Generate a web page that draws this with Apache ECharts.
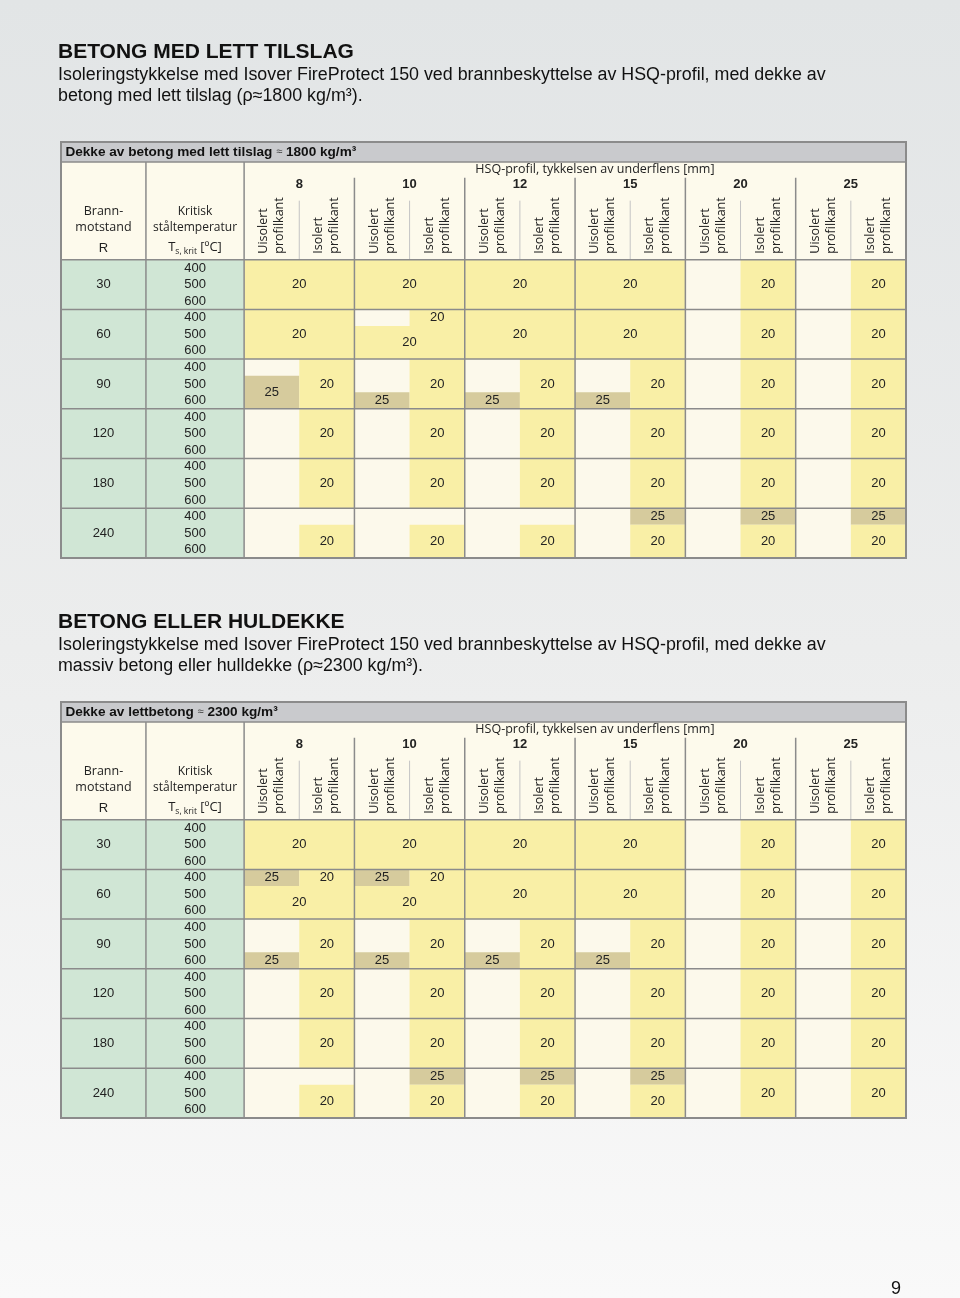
<!DOCTYPE html>
<html><head><meta charset="utf-8">
<script src="https://cdn.jsdelivr.net/npm/echarts@6/dist/echarts.min.js"></script>
<style>html,body{margin:0;padding:0;background:#fff}#c{width:960px;height:1298px}</style>
</head><body><div id="c"></div>
<script>
// ---------- data ----------
const thicknesses = ['8', '10', '12', '15', '20', '25'];
const edgeLabels = ['Uisolert\nprofilkant', 'Isolert\nprofilkant'];
const fireClasses = ['30', '60', '90', '120', '180', '240'];
const steelTemps = ['400', '500', '600'];
// blocks: [columnFrom, columnTo, subRowFrom, subRowTo, insulation mm]
const lightAggregateBlocks = [
  [0,2,0,3,20],[2,4,0,3,20],[4,6,0,3,20],[6,8,0,3,20],[9,10,0,3,20],[11,12,0,3,20],
  [0,2,3,6,20],[3,4,3,4,20],[2,4,4,6,20],[4,6,3,6,20],[6,8,3,6,20],[9,10,3,6,20],[11,12,3,6,20],
  [0,1,7,9,25],[1,2,6,9,20],[2,3,8,9,25],[3,4,6,9,20],[4,5,8,9,25],[5,6,6,9,20],[6,7,8,9,25],[7,8,6,9,20],[9,10,6,9,20],[11,12,6,9,20],
  [1,2,9,12,20],[3,4,9,12,20],[5,6,9,12,20],[7,8,9,12,20],[9,10,9,12,20],[11,12,9,12,20],
  [1,2,12,15,20],[3,4,12,15,20],[5,6,12,15,20],[7,8,12,15,20],[9,10,12,15,20],[11,12,12,15,20],
  [1,2,16,18,20],[3,4,16,18,20],[5,6,16,18,20],[7,8,15,16,25],[7,8,16,18,20],[9,10,15,16,25],[9,10,16,18,20],[11,12,15,16,25],[11,12,16,18,20]
];
const solidSlabBlocks = [
  [0,2,0,3,20],[2,4,0,3,20],[4,6,0,3,20],[6,8,0,3,20],[9,10,0,3,20],[11,12,0,3,20],
  [0,1,3,4,25],[1,2,3,4,20],[0,2,4,6,20],[2,3,3,4,25],[3,4,3,4,20],[2,4,4,6,20],[4,6,3,6,20],[6,8,3,6,20],[9,10,3,6,20],[11,12,3,6,20],
  [0,1,8,9,25],[1,2,6,9,20],[2,3,8,9,25],[3,4,6,9,20],[4,5,8,9,25],[5,6,6,9,20],[6,7,8,9,25],[7,8,6,9,20],[9,10,6,9,20],[11,12,6,9,20],
  [1,2,9,12,20],[3,4,9,12,20],[5,6,9,12,20],[7,8,9,12,20],[9,10,9,12,20],[11,12,9,12,20],
  [1,2,12,15,20],[3,4,12,15,20],[5,6,12,15,20],[7,8,12,15,20],[9,10,12,15,20],[11,12,12,15,20],
  [1,2,16,18,20],[3,4,15,16,25],[3,4,16,18,20],[5,6,15,16,25],[5,6,16,18,20],[7,8,15,16,25],[7,8,16,18,20],[9,10,15,18,20],[11,12,15,18,20]
];
const tableCaptions = ['Dekke av betong med lett tilslag', 'Dekke av lettbetong'];
const tableDensities = ['1800 kg/m³', '2300 kg/m³'];

// ---------- layout / style ----------
const XMIN = -3.32, XRT = -1.78, YMIN = -7.1, YHEAD = -5.9, NCOL = 12, NROW = 18;
const COL = {yellow:'#f9efa6', tan:'#d6cb9d', cream:'#fcf9eb', green:'#d0e6d5', head:'#fdfaec', band:'#c9cacd', line:'#8b8b8b', text:'#222'};
const SANS = '"Liberation Sans", Arial, sans-serif';
const HUM = '"Open Sans", "Noto Sans", sans-serif';

function box(api, x0, y0, x1, y1) {
  const a = api.coord([x0, y0]), b = api.coord([x1, y1]);
  return {x: Math.min(a[0], b[0]), y: Math.min(a[1], b[1]), width: Math.abs(b[0] - a[0]), height: Math.abs(b[1] - a[1])};
}
function txt(api, x, y, text, font, extra) {
  const p = api.coord([x, y]);
  const e = extra || {};
  return {type: 'text', x: p[0], y: p[1], rotation: e.rotation || 0, z2: 10,
    style: Object.assign({text: text, font: font, fill: COL.text, align: 'center', verticalAlign: 'middle',
      textAlign: 'center', textVerticalAlign: 'middle'}, e.style || {})};
}
function seg(api, x0, y0, x1, y1, color, w) {
  const a = api.coord([x0, y0]), b = api.coord([x1, y1]);
  return {type: 'line', shape: {x1: a[0], y1: a[1], x2: b[0], y2: b[1]}, style: {stroke: color || COL.line, lineWidth: w || 1.5}};
}

function tableSeries(gi, blocks, caption, density) {
  const base = {type: 'custom', xAxisIndex: gi, yAxisIndex: gi, silent: true, clip: false};
  const frame = Object.assign({}, base, {
    z: 1, data: [[0, 0]],
    renderItem: function (params, api) {
      const ch = [];
      ch.push({type: 'rect', shape: box(api, XMIN, YMIN, NCOL, YHEAD), style: {fill: COL.band}});
      ch.push({type: 'rect', shape: box(api, XMIN, YHEAD, NCOL, 0), style: {fill: COL.head}});
      ch.push({type: 'rect', shape: box(api, XMIN, 0, 0, NROW), style: {fill: COL.green}});
      ch.push({type: 'rect', shape: box(api, 0, 0, NCOL, NROW), style: {fill: COL.cream}});
      return {type: 'group', children: ch};
    }
  });
  const cells = Object.assign({}, base, {
    z: 2, data: blocks, encode: {x: [0, 1], y: [2, 3]},
    renderItem: function (params, api) {
      const c0 = api.value(0), c1 = api.value(1), r0 = api.value(2), r1 = api.value(3), v = api.value(4);
      return {type: 'group', children: [
        {type: 'rect', shape: box(api, c0, r0, c1, r1), style: {fill: v >= 25 ? COL.tan : COL.yellow}},
        txt(api, (c0 + c1) / 2, (r0 + r1) / 2, String(v), '13px ' + SANS)
      ]};
    }
  });
  const rowData = [];
  fireClasses.forEach(function (r, g) {
    rowData.push([(XMIN + XRT) / 2, g * 3 + 1.5, r]);
    steelTemps.forEach(function (t, k) { rowData.push([XRT / 2, g * 3 + k + 0.5, t]); });
  });
  const rowLabels = Object.assign({}, base, {
    z: 3, data: rowData, encode: {x: 0, y: 1},
    renderItem: function (params, api) {
      return txt(api, api.value(0), api.value(1), rowData[params.dataIndex][2], '13px ' + SANS);
    }
  });
  const lines = Object.assign({}, base, {
    z: 4, data: [[0, 0]],
    renderItem: function (params, api) {
      const ch = [];
      // header texts
      ch.push(txt(api, XMIN + 0.08, (YMIN + YHEAD) / 2, '{b|' + caption + ' }{n|≈}{b| ' + density + '}', '13px ' + SANS,
        {style: {align: 'left', textAlign: 'left', rich: {
          b: {font: 'bold 13.6px ' + SANS, fill: '#111'}, n: {font: '11px ' + SANS, fill: '#444'}}}}));
      ch.push(txt(api, 6.36, -5.42, 'HSQ-profil, tykkelsen av underflens [mm]', '12.5px ' + HUM));
      thicknesses.forEach(function (t, i) { ch.push(txt(api, 2 * i + 1, -4.52, t, 'bold 13px ' + SANS)); });
      for (let c = 0; c < NCOL; c++) {
        ch.push(txt(api, c + 0.5, -0.36, edgeLabels[c % 2], '12.5px ' + HUM,
          {rotation: Math.PI / 2, style: {align: 'left', textAlign: 'left', lineHeight: 16}}));
      }
      const rc = (XMIN + XRT) / 2, tc = XRT / 2;
      ch.push(txt(api, rc, -2.89, 'Brann-', '12.5px ' + HUM));
      ch.push(txt(api, rc, -1.93, 'motstand', '12.5px ' + HUM));
      ch.push(txt(api, rc, -0.68, 'R', '13px ' + SANS));
      ch.push(txt(api, tc, -2.89, 'Kritisk', '12px ' + HUM));
      ch.push(txt(api, tc, -1.93, 'ståltemperatur', '12px ' + HUM));
      ch.push(txt(api, tc, -0.72, '{t|T}{s|s, krit}{t| [ºC]}', '13px ' + HUM, {style: {rich: {
        t: {font: '13px ' + HUM, fill: COL.text}, s: {font: '8.5px ' + HUM, fill: COL.text, padding: [7, 0, 0, 0]}}}}));
      // grid lines
      for (let c = 1; c < NCOL; c += 2) ch.push(seg(api, c, -3.56, c, 0, '#c4c4c4', 1));
      for (let c = 2; c < NCOL; c += 2) ch.push(seg(api, c, -4.94, c, NROW));
      ch.push(seg(api, XRT, YHEAD, XRT, NROW));
      ch.push(seg(api, 0, YHEAD, 0, NROW));
      ch.push(seg(api, XMIN, YHEAD, NCOL, YHEAD));
      for (let r = 0; r < NROW; r += 3) ch.push(seg(api, XMIN, r, NCOL, r));
      ch.push({type: 'rect', shape: box(api, XMIN, YMIN, NCOL, NROW), style: {fill: null, stroke: COL.line, lineWidth: 2}});
      return {type: 'group', children: ch};
    }
  });
  return [frame, cells, rowLabels, lines];
}

const chart = echarts.init(document.getElementById('c'), null, {renderer: 'canvas'});
const grids = [{left: 61, top: 142, width: 845, height: 416}, {left: 61, top: 702, width: 845, height: 416}];
const axisX = grids.map(function (g, i) { return {type: 'value', gridIndex: i, min: XMIN, max: NCOL, show: false}; });
const axisY = grids.map(function (g, i) { return {type: 'value', gridIndex: i, min: YMIN, max: NROW, inverse: true, show: false}; });
function gtext(x, y, text, font, extra) {
  return Object.assign({type: 'text', x: x, y: y, style: {text: text, font: font, fill: '#111', verticalAlign: 'middle', textVerticalAlign: 'middle'}}, extra || {});
}
chart.setOption({
  animation: false,
  backgroundColor: new echarts.graphic.LinearGradient(0, 0, 0, 1, [{offset: 0, color: '#e2e5e6'}, {offset: 0.5, color: '#eceded'}, {offset: 1, color: '#f9f9f9'}]),
  grid: grids,
  xAxis: axisX,
  yAxis: axisY,
  graphic: [
    gtext(58, 52, 'BETONG MED LETT TILSLAG', 'bold 21px ' + SANS),
    gtext(58, 75, 'Isoleringstykkelse med Isover FireProtect 150 ved brannbeskyttelse av HSQ-profil, med dekke av', '17.85px ' + SANS),
    gtext(58, 96, 'betong med lett tilslag (ρ≈1800 kg/m³).', '17.85px ' + SANS),
    gtext(58, 622, 'BETONG ELLER HULDEKKE', 'bold 21px ' + SANS),
    gtext(58, 645, 'Isoleringstykkelse med Isover FireProtect 150 ved brannbeskyttelse av HSQ-profil, med dekke av', '17.85px ' + SANS),
    gtext(58, 666, 'massiv betong eller hulldekke (ρ≈2300 kg/m³).', '17.85px ' + SANS),
    gtext(891, 1289, '9', '18px ' + SANS)
  ],
  series: tableSeries(0, lightAggregateBlocks, tableCaptions[0], tableDensities[0])
    .concat(tableSeries(1, solidSlabBlocks, tableCaptions[1], tableDensities[1]))
});
</script></body></html>
